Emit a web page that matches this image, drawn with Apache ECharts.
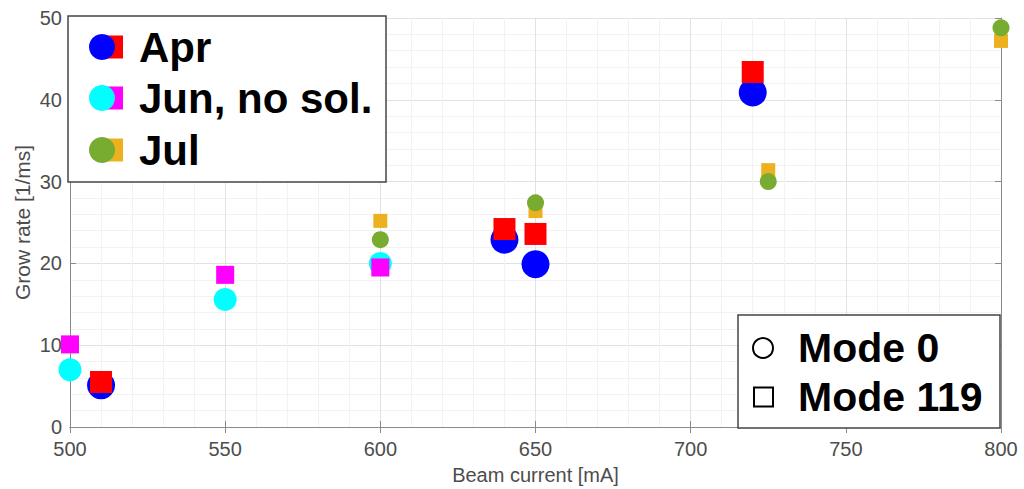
<!DOCTYPE html>
<html>
<head>
<meta charset="utf-8">
<script src="https://cdn.jsdelivr.net/npm/echarts@6/dist/echarts.min.js"></script>
<style>
html, body { margin: 0; padding: 0; background: #fff; }
#chart { width: 1024px; height: 489px; }
</style>
</head>
<body>
<div id="chart"></div>
<script>
// 数据：束流 [mA] 与增长率 [1/ms]
const aprCurrent = [510, 640, 650, 720];
const aprMode0 = [5.1, 22.9, 19.9, 40.9];
const aprMode119 = [5.5, 24.2, 23.6, 43.4];

const junCurrent = [500, 550, 600];
const junMode0 = [7.0, 15.6, 20.0];
const junMode119 = [10.1, 18.6, 19.5];

const julCurrent = [600, 650, 725, 800];
const julMode0 = [22.9, 27.4, 30.0, 48.8];
const julMode119 = [25.2, 26.4, 31.4, 47.2];

const monthNames = ['Apr', 'Jun, no sol.', 'Jul'];
const modeNames = ['Mode 0', 'Mode 119'];

const FONT = "'Liberation Sans', Arial, sans-serif";

function pairs(xs, ys) {
    return xs.map((x, i) => [x, ys[i]]);
}

// 散点系列
function scatter(name, xs, ys, symbol, size, color) {
    return {
        name: name,
        type: 'scatter',
        data: pairs(xs, ys),
        symbol: symbol,
        symbolSize: size,
        clip: false,
        itemStyle: { color: color, opacity: 1 },
        emphasis: { disabled: true }
    };
}

const monthColors = [
    ['#0000ff', '#ff0000'],
    ['#00ffff', '#ff00ff'],
    ['#77ac30', '#edb120']
];

// 左上图例
function monthLegend() {
    const rows = [47, 98, 150];
    const els = [{
        type: 'rect',
        shape: { x: 68, y: 16, width: 318, height: 166 },
        style: { fill: '#fff', stroke: '#444', lineWidth: 1.5 }
    }];
    monthNames.forEach((name, i) => {
        const y = rows[i];
        els.push({
            type: 'rect',
            shape: { x: 100, y: y - 11.5, width: 23, height: 23 },
            style: { fill: monthColors[i][1] }
        });
        els.push({
            type: 'circle',
            shape: { cx: 102, cy: y, r: 13 },
            style: { fill: monthColors[i][0] }
        });
        els.push({
            type: 'text',
            x: 139, y: y,
            style: {
                text: name, fill: '#000',
                font: 'bold 42px ' + FONT,
                verticalAlign: 'middle', align: 'left'
            }
        });
    });
    return els;
}

// 右下图例
function modeLegend() {
    const rows = [348, 397];
    return [
        {
            type: 'rect',
            shape: { x: 738, y: 315, width: 262, height: 113 },
            style: { fill: '#fff', stroke: '#444', lineWidth: 1.5 }
        },
        {
            type: 'circle',
            shape: { cx: 763, cy: rows[0], r: 10 },
            style: { fill: '#fff', stroke: '#000', lineWidth: 2 }
        },
        {
            type: 'rect',
            shape: { x: 754, y: rows[1] - 9.5, width: 19, height: 19 },
            style: { fill: '#fff', stroke: '#000', lineWidth: 2 }
        },
        {
            type: 'text', x: 798, y: rows[0],
            style: { text: modeNames[0], fill: '#000', font: 'bold 41px ' + FONT, verticalAlign: 'middle' }
        },
        {
            type: 'text', x: 798, y: rows[1],
            style: { text: modeNames[1], fill: '#000', font: 'bold 41px ' + FONT, verticalAlign: 'middle' }
        }
    ];
}

const axisLineStyle = { color: '#8a8a8a', width: 1 };

function xAxisCfg(position, main) {
    return {
        type: 'value', position: position,
        min: 500, max: 800, interval: 50,
        name: main ? 'Beam current [mA]' : '',
        nameLocation: 'middle', nameGap: 38,
        nameTextStyle: { color: '#4d4d4d', fontSize: 20, fontFamily: FONT },
        axisLine: { show: true, lineStyle: axisLineStyle },
        axisTick: { show: true, inside: true, length: 6, lineStyle: axisLineStyle },
        axisLabel: { show: main, color: '#4d4d4d', fontSize: 20, fontFamily: FONT, margin: 12 },
        minorTick: { show: false, splitNumber: 5 },
        splitLine: { show: main, lineStyle: { color: '#e2e2e2' } },
        minorSplitLine: { show: main, lineStyle: { color: '#f2f2f2' } }
    };
}

function yAxisCfg(position, main) {
    return {
        type: 'value', position: position,
        min: 0, max: 50, interval: 10,
        name: main ? 'Grow rate [1/ms]' : '',
        nameLocation: 'middle', nameGap: 37, nameMoveOverlap: false,
        nameTextStyle: { color: '#4d4d4d', fontSize: 21, fontFamily: FONT },
        axisLine: { show: true, lineStyle: axisLineStyle },
        axisTick: { show: true, inside: true, length: 6, lineStyle: axisLineStyle },
        axisLabel: { show: main, color: '#4d4d4d', fontSize: 20, fontFamily: FONT, margin: 8 },
        minorTick: { show: false, splitNumber: 5 },
        splitLine: { show: main, lineStyle: { color: '#e2e2e2' } },
        minorSplitLine: { show: main, lineStyle: { color: '#f2f2f2' } }
    };
}

const chart = echarts.init(document.getElementById('chart'), null, { renderer: 'svg' });

chart.setOption({
    animation: false,
    backgroundColor: '#fff',
    grid: { left: 70, right: 23, top: 18, bottom: 62, outerBoundsMode: 'none', containLabel: false },
    xAxis: [xAxisCfg('bottom', true), xAxisCfg('top', false)],
    yAxis: [yAxisCfg('left', true), yAxisCfg('right', false)],
    series: [
        scatter('Apr Mode 0', aprCurrent, aprMode0, 'circle', 28, monthColors[0][0]),
        scatter('Apr Mode 119', aprCurrent, aprMode119, 'rect', 22, monthColors[0][1]),
        scatter('Jun Mode 0', junCurrent, junMode0, 'circle', 23, monthColors[1][0]),
        scatter('Jun Mode 119', junCurrent, junMode119, 'rect', 18, monthColors[1][1]),
        scatter('Jul Mode 119', julCurrent, julMode119, 'rect', 14, monthColors[2][1]),
        scatter('Jul Mode 0', julCurrent, julMode0, 'circle', 17, monthColors[2][0])
    ],
    graphic: monthLegend().concat(modeLegend()).map(el => Object.assign({ z: 100 }, el))
});
</script>
</body>
</html>
